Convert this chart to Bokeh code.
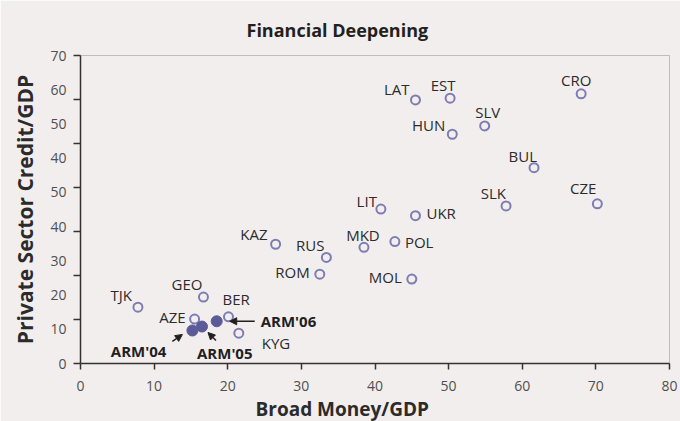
from bokeh.plotting import figure
from bokeh.models import (ColumnDataSource, Range1d, FixedTicker, Title, Arrow,
                          NormalHead)
from bokeh.core.properties import value
from bokeh.embed import file_html
from bokeh.resources import INLINE

# ---------------- data ----------------
names = ["TJK", "GEO", "AZE", "BER", "KYG", "KAZ", "RUS", "ROM", "MKD", "LIT",
         "UKR", "POL", "MOL", "LAT", "EST", "HUN", "SLV", "CRO", "BUL", "SLK", "CZE"]
broad_money = [7.8, 16.7, 15.5, 20.1, 21.5, 26.5, 33.4, 32.5, 38.5, 40.8,
               45.5, 42.7, 45.0, 45.5, 50.2, 50.5, 54.9, 68.0, 61.6, 57.8, 70.2]
private_credit = [12.8, 15.1, 10.1, 10.6, 6.9, 27.1, 24.1, 20.3, 26.4, 35.1,
                  33.6, 27.7, 19.2, 59.9, 60.3, 52.1, 54.0, 61.3, 44.5, 35.8, 36.3]

arm_names = ["ARM'04", "ARM'05", "ARM'06"]
arm_broad_money = [15.2, 16.5, 18.5]
arm_credit = [7.5, 8.4, 9.6]

x_ticks = [0, 10, 20, 30, 40, 50, 60, 70, 80]
y_tick_marks = [0, 10, 20, 30, 40, 50, 60, 70]
y_tick_labels = ["0", "10", "20", "30", "40", "50", "40", "50", "60", "70"]  # bottom to top, as printed

# ---------------- label layout (screen px) ----------------
label_align = ["right", "right", "right", "left", "left", "right", "right", "right", "center", "right",
               "left", "left", "right", "right", "center", "right", "center", "center", "right", "right", "right"]
label_dx = [-6, -1, -9, -6, 23, -8, -2, -10, -1, -4,
            11, 10, -10, -6, -7, -7, 3, -5, 3, 0, -1]
label_dy = [-12, -13, -2, -18, 10, -10, -12, -2, -12, -8,
            -3, 0, -2, -11, -13, -9, -14, -14, -12, -13, -16]
arm_align = ["right", "left", "left"]
arm_dx = [-26, -5, 44]
arm_dy = [20, 26, 0]
# arrow (start, end) offsets from each ARM point, in screen px (y down)
arrow_start = [(-20, 11), (14, 14), (38, 0)]
arrow_end = [(-10, 4), (6, 6), (13, 0)]

BG = "#f2eeed"
FONT = "Open Sans"
TEXT = "#2b2b2b"
AX = "#333333"

X0, X1, Y0, Y1 = 0, 80, 0, 70

p = figure(width=680, height=421, x_range=Range1d(X0, X1), y_range=Range1d(Y0, Y1),
           output_backend="svg", toolbar_location=None,
           min_border_left=80, min_border_right=11, min_border_top=55, min_border_bottom=57,
           background_fill_color=BG, border_fill_color=BG)
p.grid.visible = False
p.outline_line_color = "#bdbdbd"
p.outline_line_width = 1

# title
p.title.text = "Financial Deepening"
p.title.align = "left"
p.title.offset = 166
p.title.text_font = FONT
p.title.text_font_size = "18px"
p.title.text_font_style = "bold"
p.title.text_color = "#231f20"
p.title.standoff = 27

# x axis
xa = p.xaxis[0]
xa.ticker = FixedTicker(ticks=x_ticks)
xa.axis_line_color = AX
xa.axis_line_width = 1.5
xa.major_tick_line_color = AX
xa.major_tick_line_width = 1.5
xa.major_tick_in = 0
xa.major_tick_out = 6
xa.minor_tick_line_color = None
xa.major_label_text_font = FONT
xa.major_label_text_font_size = "14px"
xa.major_label_text_color = "#505050"
xa.major_label_standoff = 11

xt = Title(text="Broad Money/GDP", align="left", offset=175, text_font=FONT,
           text_font_size="19px", text_font_style="bold", text_color=TEXT, standoff=0)
p.add_layout(xt, "below")

# y axis
n = len(y_tick_labels)
label_pos = [Y0 + (Y1 - Y0) * k / (n - 1) for k in range(n)]
ya = p.yaxis[0]
ya.ticker = FixedTicker(ticks=label_pos, minor_ticks=y_tick_marks)
ya.major_label_overrides = {pos: lab for pos, lab in zip(label_pos, y_tick_labels)}
ya.axis_line_color = AX
ya.axis_line_width = 1.5
ya.major_tick_line_color = None
ya.major_tick_in = 0
ya.major_tick_out = 0
ya.minor_tick_line_color = AX
ya.minor_tick_line_width = 1.5
ya.minor_tick_in = 0
ya.minor_tick_out = 7
ya.major_label_text_font = FONT
ya.major_label_text_font_size = "14px"
ya.major_label_text_color = "#505050"
ya.major_label_standoff = 7
ya.axis_label = "Private Sector Credit/GDP"
ya.axis_label_text_font = FONT
ya.axis_label_text_font_size = "21px"
ya.axis_label_text_font_style = "bold"
ya.axis_label_text_color = TEXT
ya.axis_label_standoff = 8

# points
src = ColumnDataSource(dict(x=broad_money, y=private_credit, name=names,
                            align=label_align, dx=label_dx, dy=label_dy))
p.scatter("x", "y", source=src, marker="circle", size=9, fill_color=None,
          line_color="#7d7db3", line_width=2)
p.text("x", "y", text="name", source=src, x_offset="dx", y_offset="dy",
       text_align="align", text_baseline="middle", text_font=value(FONT),
       text_font_size="15px", text_color=TEXT)

asrc = ColumnDataSource(dict(x=arm_broad_money, y=arm_credit, name=arm_names,
                             align=arm_align, dx=arm_dx, dy=arm_dy))
p.scatter("x", "y", source=asrc, marker="circle", size=11, fill_color="#5b5b97",
          line_color="#5b5b97", line_width=1)
p.text("x", "y", text="name", source=asrc, x_offset="dx", y_offset="dy",
       text_align="align", text_baseline="middle", text_font=value(FONT),
       text_font_size="15px", text_font_style="bold", text_color="#1f1f1f")

# arrows (pixel offsets converted to data units)
frame_w = 588.5
frame_h = 308.5
ppx = frame_w / (X1 - X0)
ppy = frame_h / (Y1 - Y0)
for xv, yv, (sx, sy), (ex, ey) in zip(arm_broad_money, arm_credit, arrow_start, arrow_end):
    p.add_layout(Arrow(end=NormalHead(size=7, fill_color="#1f1f1f", line_color="#1f1f1f"),
                       x_start=xv + sx / ppx, y_start=yv - sy / ppy,
                       x_end=xv + ex / ppx, y_end=yv - ey / ppy,
                       line_color="#1f1f1f", line_width=1.5))

open("out.html", "w").write(file_html(p, INLINE))
